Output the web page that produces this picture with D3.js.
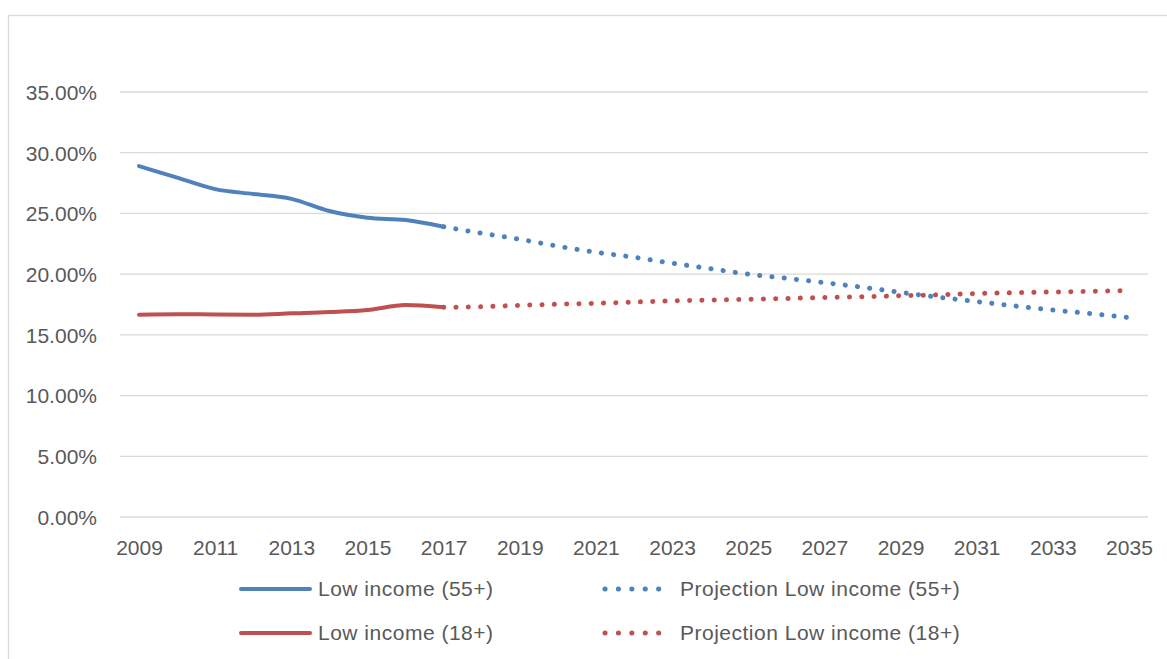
<!DOCTYPE html>
<html><head><meta charset="utf-8">
<script src="https://cdn.jsdelivr.net/npm/d3@7"></script>
<style>body{margin:0;background:#fff}svg{display:block}text{font-family:"Liberation Sans",Arial,sans-serif;fill:#595959}</style>
</head><body><svg id="c" width="1167" height="659"></svg>
<script>
const years = d3.range(2009, 2036);
const tickYears = [2009,2011,2013,2015,2017,2019,2021,2023,2025,2027,2029,2031,2033,2035];
const yTicks = [0,5,10,15,20,25,30,35];
const actualYears = [2009,2010,2011,2012,2013,2014,2015,2016,2017];
const low55 = [28.9,27.95,27.0,26.6,26.2,25.2,24.65,24.45,23.9];
const low18 = [16.66,16.7,16.68,16.66,16.77,16.88,17.05,17.45,17.27];
const projYears = [2017,2018,2019,2020,2021,2022,2023,2024,2025,2026,2027,2028,2029,2030,2031,2032,2033,2034,2035];
const proj55 = [23.9,23.37,22.87,22.3,21.8,21.39,20.9,20.45,20.0,19.66,19.3,18.92,18.5,18.1,17.74,17.38,17.05,16.75,16.42];
const proj18 = [17.27,17.32,17.43,17.52,17.6,17.7,17.8,17.87,17.93,18.0,18.07,18.14,18.22,18.3,18.4,18.47,18.53,18.59,18.65];
const seriesNames = ["Low income (55+)","Projection Low income (55+)","Low income (18+)","Projection Low income (18+)"];
const BLUE = "#4f81bd", RED = "#c0504d";

const svg = d3.select("#c");
// outer chart border
svg.append("rect").attr("x",8.5).attr("y",15.5).attr("width",1200).attr("height",700)
  .attr("fill","none").attr("stroke","#d9d9d9").attr("stroke-width",1.3);

const x = d3.scalePoint().domain(years).range([120,1148]).padding(0.5);
const y = d3.scaleLinear().domain([0,35]).range([517,92]);

// gridlines
svg.append("g").selectAll("line").data(yTicks).join("line")
  .attr("x1",120).attr("x2",1148).attr("y1",d=>y(d)).attr("y2",d=>y(d))
  .attr("stroke","#d9d9d9").attr("stroke-width",1.3);

// y axis labels
const yAxis = d3.axisLeft(y).tickValues(yTicks).tickSize(0).tickPadding(0)
  .tickFormat(d=>d.toFixed(2)+"%");
const gy = svg.append("g").attr("transform","translate(97,0)").call(yAxis);
gy.select(".domain").remove();
gy.selectAll("text").attr("font-size",21).attr("fill","#595959").attr("dy","0.35em")
  .style("font-family","'Liberation Sans',Arial,sans-serif");

// x axis labels
const xAxis = d3.axisBottom(x).tickValues(tickYears).tickSize(0).tickPadding(0);
const gx = svg.append("g").attr("transform","translate(0,548)").call(xAxis);
gx.select(".domain").remove();
gx.selectAll("text").attr("font-size",21).attr("fill","#595959").attr("dy","0.35em")
  .style("font-family","'Liberation Sans',Arial,sans-serif");

const line = d3.line().x(d=>x(d[0])).y(d=>y(d[1])).curve(d3.curveMonotoneX);
const zip = (a,b)=>a.map((v,i)=>[v,b[i]]);

function dotted(sel){ return sel.attr("stroke-dasharray","0.1 12.2").attr("stroke-linecap","round").attr("stroke-width",5); }

dotted(svg.append("path").attr("d",line(zip(projYears,proj55))).attr("fill","none").attr("stroke",BLUE));
dotted(svg.append("path").attr("d",line(zip(projYears,proj18))).attr("fill","none").attr("stroke",RED));
svg.append("path").attr("d",line(zip(actualYears,low55))).attr("fill","none").attr("stroke",BLUE)
  .attr("stroke-width",4).attr("stroke-linecap","round").attr("stroke-linejoin","round");
svg.append("path").attr("d",line(zip(actualYears,low18))).attr("fill","none").attr("stroke",RED)
  .attr("stroke-width",4).attr("stroke-linecap","round").attr("stroke-linejoin","round");

// legend
const legend = [
  {name:seriesNames[0], color:BLUE, dash:false, x:241, y:589},
  {name:seriesNames[1], color:BLUE, dash:true,  x:603, y:589},
  {name:seriesNames[2], color:RED,  dash:false, x:241, y:633},
  {name:seriesNames[3], color:RED,  dash:true,  x:603, y:633}
];
const lg = svg.append("g").selectAll("g").data(legend).join("g");
lg.each(function(d){
  const g = d3.select(this);
  const l = g.append("line").attr("x1",d.x+(d.dash?2:0)).attr("x2",d.x+69).attr("y1",d.y).attr("y2",d.y)
    .attr("stroke",d.color);
  if(d.dash) l.attr("stroke-dasharray","0.1 13.3").attr("stroke-linecap","round").attr("stroke-width",5);
  else l.attr("stroke-width",4).attr("stroke-linecap","round");
  g.append("text").attr("x",d.x+77).attr("y",d.y).attr("dy","0.35em").attr("font-size",21)
    .attr("letter-spacing","0.5").text(d.name);
});
</script></body></html>
